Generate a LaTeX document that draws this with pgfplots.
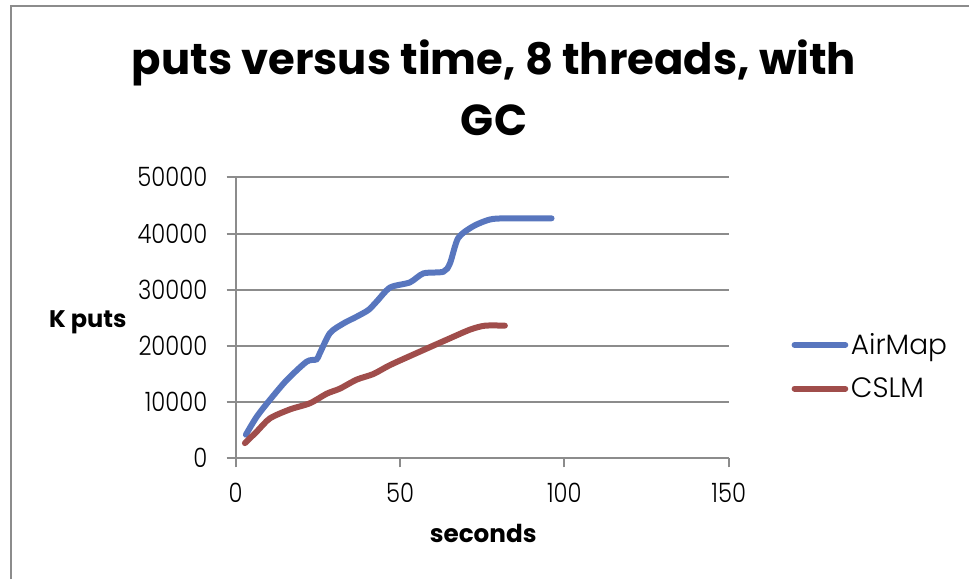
\documentclass[border=0pt]{standalone}
\usepackage{pgfplots}
\pgfplotsset{compat=1.18}
\usepackage{fontspec}
\setmainfont{Poppins}
\newfontfamily\tickfont[FakeStretch=0.85]{Poppins Light}
\newfontfamily\legfont{Poppins Light}
\definecolor{airblue}{RGB}{88,118,190}
\definecolor{cslmred}{RGB}{160,77,75}
\definecolor{gridgray}{RGB}{140,140,140}
\begin{document}
\begin{tikzpicture}[x=0.75pt,y=0.75pt]
\useasboundingbox (0,0) rectangle (969,579);
\draw[gridgray,line width=1.5pt] (11,0) -- (11,572.5) -- (969,572.5);
\node[font=\bfseries\fontsize{32.5}{46}\selectfont,align=center,anchor=center] at (494,491) {puts versus time, 8 threads, with\\GC};
\begin{axis}[
  at={(176.775pt,90.525pt)}, anchor=south west,
  scale only axis, width=369.75pt, height=210.75pt,
  xmin=0, xmax=150, ymin=0, ymax=50000,
  scaled y ticks=false,
  xtick={0,50,100,150}, ytick={0,10000,20000,30000,40000,50000},
  axis x line*=bottom, axis y line*=left,
  axis line style={gridgray,line width=1.5pt,-},
  ymajorgrids, grid style={gridgray,line width=1.5pt},
  tick align=outside, major tick length=6.75pt,
  tick style={gridgray,line width=1.5pt},
  /pgf/number format/assume math mode=true,
  /pgf/number format/set thousands separator={},
  ticklabel style={font=\tickfont\fontsize{20}{24}\selectfont},
  yticklabel style={xshift=-11pt},
  xticklabel style={yshift=-8.5pt},
  xlabel={seconds}, ylabel={K puts},
  xlabel style={font=\bfseries\fontsize{18.5}{22}\selectfont, at={(axis description cs:0.502,-0.266)}, anchor=center},
  ylabel style={font=\bfseries\fontsize{18}{22}\selectfont, at={(axis description cs:-0.30,0.485)}, anchor=center, rotate=-90},
  legend style={draw=none, fill=none, at={(axis description cs:1.127,0.327)}, anchor=west,
    font=\legfont\fontsize{21}{24}\selectfont, row sep=12pt, inner sep=0pt},
  legend cell align=left,
  legend image code/.code={\draw[#1, line width=4.5pt] (0pt,0pt) -- (38pt,0pt);},
  clip=false,
]
\addplot[airblue, line width=4.5pt, smooth, tension=0.45, line cap=round] coordinates {
(3.1,4200) (6.4,7400) (10.4,10400) (15.5,13900) (21.6,17200) (24.6,17600) (25.6,18700)
(28.7,22300) (32.8,24000) (36.8,25200) (40.4,26400) (42.9,27900) (47,30400) (53,31300)
(57.1,32900) (63.2,33200) (65.2,34700) (67.7,39200) (72.3,41300) (77.4,42500) (82.5,42700) (96.1,42700)
};
\addlegendentry{AirMap}
\addplot[cslmred, line width=4.5pt, smooth, tension=0.45, line cap=round] coordinates {
(2.8,2700) (6.4,4750) (10.4,7100) (16.5,8700) (22.6,9800) (27.7,11500) (31.7,12400)
(36.8,14000) (41.9,15000) (47,16600) (56.1,19000) (64.2,21100) (71.3,22900) (75.9,23600) (81.9,23600)
};
\addlegendentry{CSLM}
\end{axis}
\end{tikzpicture}
\end{document}
